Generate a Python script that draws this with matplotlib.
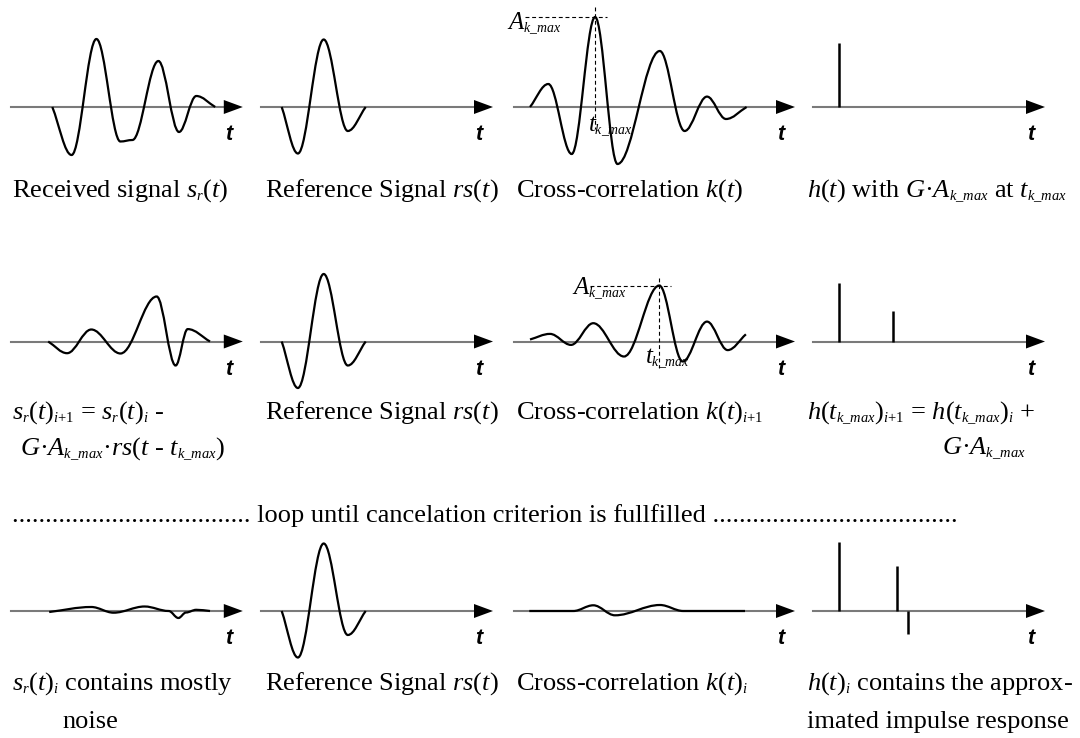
import matplotlib
matplotlib.use("Agg")
import matplotlib.pyplot as plt
import matplotlib._mathtext as mathtext_impl
from matplotlib.path import Path
from matplotlib.patches import PathPatch, Polygon

plt.rcParams["font.family"] = "Liberation Serif"
plt.rcParams["mathtext.fontset"] = "custom"
plt.rcParams["mathtext.rm"] = "Liberation Serif"
plt.rcParams["mathtext.it"] = "Liberation Serif:italic"
plt.rcParams["mathtext.bf"] = "Liberation Serif:bold"
# subscripts in the original are noticeably smaller than mathtext's default
mathtext_impl.SHRINK_FACTOR = 0.55

W, H = 1080, 738

# --- waveform extrema (time offset along the panel axis, amplitude) -------
rx_t = [40.9, 60.2, 85.0, 109.0, 121.0, 147.0, 167.6, 184.9, 203.8]
rx_a = [0, -48, 68, -34.5, -33, 46, -25, 11, 0]

rs_t = [20.7, 36.9, 62.7, 86.8, 104.7]
rs_a = [0, -46.5, 67.5, -24, 0]

res1_t = [36.8, 55.7, 79.9, 109.1, 145.3, 164.2, 176.3, 198.6]
res1_a = [0, -11.7, 12, -12, 45, -24, 12.4, 0]

res2_t = [37.8, 79.9, 102.2, 133.2, 157.3, 167.0, 174.6, 184.9, 198.6]
res2_a = [-1, 4, -1.7, 4.5, 0, -7, -1.5, 1.2, 0]

xc0_t = [16, 34.3, 57.7, 81.1, 103.5, 145.8, 170.6, 193, 212, 232.6]
xc0_a = [0, 23, -47, 90, -57, 56, -24, 10.4, -12, 0]

xc1_t = [16, 36, 57, 79.3, 110, 145.3, 168.7, 193, 213.7, 231.9]
xc1_a = [2, 7.6, -3.4, 18.3, -15, 56, -20, 19.9, -8.6, 7.2]

xc2_t = [15.3, 59.3, 79.3, 101, 146, 169.3, 231]
xc2_a = [0, 0, 5.7, -4.3, 6, 0, 0]

# impulse response estimates h(t)
h0_t, h0_a = [25.9], [63.7]
h1_t, h1_a = [25.9, 80], [58.5, 30.3]
h2_t, h2_a = [25.9, 84.1, 94.8], [68.8, 44.7, -23.1]

# panel layout (pixels)
col_x = [11.4, 261, 514, 813]
col_len = [231.4, 232, 281, 232]
row_y = [107, 341.5, 611]

labels_row1 = ["Received signal $s_r(t)$",
               "Reference Signal $rs(t)$",
               "Cross-correlation $k(t)$",
               "$h(t)$ with $G\u00b7A_{k\\_max}$ at $t_{k\\_max}$"]
labels_row2 = ["$s_r(t)_{i{+}1}$ = $s_r(t)_i$ -",
               "Reference Signal $rs(t)$",
               "Cross-correlation $k(t)_{i{+}1}$",
               "$h(t_{k\\_max})_{i{+}1}$ = $h(t_{k\\_max})_i$ +"]
labels_row2b = ["$G\u00b7A_{k\\_max}\u00b7rs(t$ - $t_{k\\_max})$", "$G\u00b7A_{k\\_max}$"]
labels_row3 = ["$s_r(t)_i$ contains mostly",
               "Reference Signal $rs(t)$",
               "Cross-correlation $k(t)_i$",
               "$h(t)_i$ contains the approx-"]
labels_row3b = ["noise", "imated impulse response"]
loop_text = ("." * 36 + " loop until cancelation criterion is fullfilled " + "." * 37)

AXIS_GRAY = "#7a7a7a"
HEAD_LEN, HEAD_HALF = 19, 7
FS = 19.0


def wave_path(t, a, h=0.36):
    verts, codes = [(t[0], a[0])], [Path.MOVETO]
    n = len(t)
    for i in range(n - 1):
        d = t[i + 1] - t[i]
        if i == 0:
            c1 = (t[i] + d * h, a[i] + (a[i + 1] - a[i]) * h)
        else:
            c1 = (t[i] + d * h, a[i])
        if i + 1 == n - 1:
            c2 = (t[i + 1] - d * h, a[i + 1] + (a[i] - a[i + 1]) * h)
        else:
            c2 = (t[i + 1] - d * h, a[i + 1])
        verts += [c1, c2, (t[i + 1], a[i + 1])]
        codes += [Path.CURVE4] * 3
    return Path(verts, codes)


fig = plt.figure(figsize=(W / 100, H / 100), dpi=100)


def panel(r, c):
    x0, L, y0 = col_x[c], col_len[c], row_y[r]
    ax = fig.add_axes([(x0 - 5) / W, (H - (y0 + 110)) / H, (L + 10) / W, 220 / H])
    ax.set_xlim(-5, L + 5)
    ax.set_ylim(-110, 110)
    ax.axis("off")
    ax.plot([0, L - HEAD_LEN], [0, 0], color=AXIS_GRAY, lw=1.5, zorder=1)
    ax.add_patch(Polygon([(L - HEAD_LEN, HEAD_HALF), (L, 0), (L - HEAD_LEN, -HEAD_HALF)],
                         closed=True, color="black", lw=0))
    ax.text(L - 14, -28, "t", family="Liberation Sans", style="italic", weight="bold",
            fontsize=15.5, ha="center", va="center")
    return ax


def draw_wave(ax, t, a):
    ax.add_patch(PathPatch(wave_path(t, a), fill=False, lw=1.6, color="black", zorder=3))


def draw_peak_marks(ax, t, a, hx, vy, a_xy, t_xy):
    i = max(range(len(a)), key=lambda k: a[k])
    tp, ap = t[i], a[i]
    ax.plot(hx, [ap, ap], color="black", lw=0.8, dashes=(3.5, 2.5), zorder=2)
    ax.plot([tp, tp], vy, color="black", lw=0.8, dashes=(3.5, 2.5), zorder=2)
    ax.text(a_xy[0], a_xy[1], "$A_{k\\_max}$", fontsize=18, ha="left", va="baseline")
    ax.text(t_xy[0], t_xy[1], "$t_{k\\_max}$", fontsize=18, ha="left", va="baseline")


# row 1
ax = panel(0, 0); draw_wave(ax, rx_t, rx_a)
ax = panel(0, 1); draw_wave(ax, rs_t, rs_a)
ax = panel(0, 2); draw_wave(ax, xc0_t, xc0_a)
draw_peak_marks(ax, xc0_t, xc0_a, [11, 93], [100, -22], (-7, 77), (74.3, -25))
ax = panel(0, 3); ax.vlines(h0_t, 0, h0_a, color="black", lw=1.8)

# row 2
ax = panel(1, 0); draw_wave(ax, res1_t, res1_a)
ax = panel(1, 1); draw_wave(ax, rs_t, rs_a)
ax = panel(1, 2); draw_wave(ax, xc1_t, xc1_a)
draw_peak_marks(ax, xc1_t, xc1_a, [76, 156.7], [64, -26], (57.7, 46.5), (131, -22))
ax = panel(1, 3); ax.vlines(h1_t, 0, h1_a, color="black", lw=1.8)

# row 3
ax = panel(2, 0); draw_wave(ax, res2_t, res2_a)
ax = panel(2, 1); draw_wave(ax, rs_t, rs_a)
ax = panel(2, 2); draw_wave(ax, xc2_t, xc2_a)
ax = panel(2, 3); ax.vlines(h2_t, 0, h2_a, color="black", lw=1.8)

# text overlay in pixel coordinates
tx = fig.add_axes([0, 0, 1, 1])
tx.set_xlim(0, W)
tx.set_ylim(H, 0)
tx.axis("off")

label_x = [12, 265, 516.5, 807]
for x, s in zip(label_x, labels_row1):
    tx.text(x, 197, s, fontsize=FS, va="baseline")
for x, s in zip(label_x, labels_row2):
    tx.text(x, 419, s, fontsize=FS, va="baseline")
tx.text(19.5, 455, labels_row2b[0], fontsize=FS, va="baseline")
tx.text(941.7, 455, labels_row2b[1], fontsize=FS, va="baseline")
tx.text(12, 522, loop_text, fontsize=FS, va="baseline")
for x, s in zip(label_x, labels_row3):
    tx.text(x, 690, s, fontsize=FS, va="baseline")
tx.text(62, 728, labels_row3b[0], fontsize=FS, va="baseline")
tx.text(807, 728, labels_row3b[1], fontsize=FS, va="baseline")

fig.savefig("out.png", dpi=100)
